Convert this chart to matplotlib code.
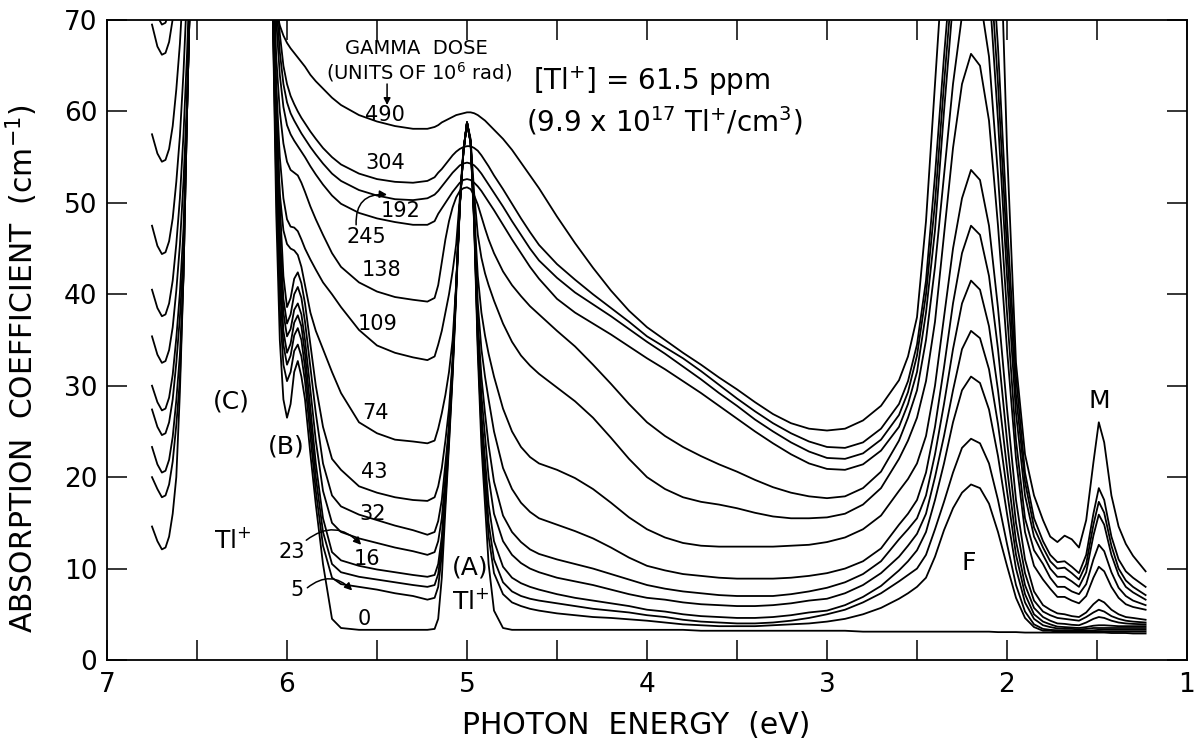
import numpy as np
import matplotlib
matplotlib.use("Agg")
import matplotlib.pyplot as plt
from matplotlib.ticker import MultipleLocator, FuncFormatter

nan = float("nan")
plt.rcParams['font.family'] = ['DejaVu Sans']
plt.rcParams['mathtext.default'] = 'regular'

# photon energy grid (eV), one shared grid for every spectrum
x_C = [6.75, 6.72, 6.695, 6.675, 6.655, 6.635, 6.615, 6.595, 6.575, 6.555, 6.54]
x_B = [6.08, 6.06, 6.04, 6.02, 6.00, 5.98, 5.96, 5.94, 5.92, 5.90, 5.87, 5.84,
       5.80, 5.75, 5.70, 5.60, 5.50, 5.40, 5.30, 5.22, 5.18]
x_A = [5.16, 5.14, 5.12, 5.10, 5.08, 5.06, 5.04, 5.02, 5.00, 4.98, 4.96, 4.94,
       4.92, 4.90, 4.88, 4.85, 4.80, 4.75, 4.70, 4.65, 4.60]
x_mid = [4.50, 4.40, 4.30, 4.20, 4.10, 4.00, 3.90, 3.80, 3.70, 3.60, 3.50, 3.40,
         3.30, 3.20, 3.10, 3.00, 2.90, 2.80, 2.70, 2.60, 2.55]
x_F = [2.50, 2.45, 2.40, 2.35, 2.30, 2.25, 2.20, 2.15, 2.10, 2.05, 2.00, 1.95,
       1.90, 1.85, 1.80]
x_M = [1.76, 1.72, 1.68, 1.64, 1.60, 1.56, 1.52, 1.49, 1.46, 1.42, 1.38, 1.34,
       1.30, 1.23]

# absorption coefficient (cm^-1) for each gamma dose, segments C | B | A | mid | F | M
d0 = ([14.6, 13.0, 12.1, 12.3, 13.5, 16.0, 20.0, 29.3, 42.1, 60.2, 72] +
      [72, 49, 35, 28.5, 26.5, 28, 31.5, 32.7, 31, 28.5, 22.5, 17, 10.5, 4.5, 3.5, 3.3, 3.3, 3.3, 3.3, 3.3, 3.4] +
      [4.5, 9, 16.5, 23.5, 31, 40, 49.5, 55.5, 58.8, 56.5, 47.5, 33.5, 23.5, 17, 10.5, 5.4, 3.5, 3.3, 3.3, 3.3, 3.3] +
      [3.3, 3.3, 3.3, 3.3, 3.3, 3.3, 3.3, 3.3, 3.2, 3.2, 3.2, 3.2, 3.2, 3.2, 3.2, 3.2, 3.2, 3.1, 3.1, 3.1, 3.1] +
      [3.1, 3.1, 3.1, 3.1, 3.1, 3.1, 3.1, 3.1, 3.1, 3.05, 3.05, 3.05, 3.0, 3.0, 3.0] +
      [3.0, 3.0, 3.0, 3.0, 3.0, 3.0, 3.0, 3.0, 3.0, 2.95, 2.95, 2.95, 2.9, 2.9])
d5 = ([20.0, 18.7, 17.8, 18.0, 19.2, 21.7, 25.7, 30.7, 42.1, 60.2, 72] +
      [72, 52, 38.5, 32.3, 30.5, 31.5, 33.8, 34.5, 33.2, 30.5, 24.5, 18.5, 12.5, 9.0, 8.3, 8.0, 7.7, 7.3, 7.0, 6.6, 6.8] +
      [8.0, 11.5, 17.5, 24, 31.5, 40.5, 49.7, 55.6, 58.8, 56.6, 47.8, 34.5, 25, 19, 13.5, 9.5, 7.2, 6.3, 5.9, 5.6, 5.4] +
      [5.1, 4.9, 4.7, 4.6, 4.45, 4.3, 4.1, 3.9, 3.8, 3.7, 3.7, 3.7, 3.8, 3.9, 4.0, 4.2, 4.5, 5.0, 5.7, 6.7, 7.3] +
      [8.0, 9.0, 11.3, 14.2, 16.6, 18.3, 19.2, 18.8, 17.1, 14.0, 10.3, 6.8, 4.6, 3.6, 3.2] +
      [3.2, 3.1, 3.1, 3.1, 3.1, 3.1, 3.1, 3.15, 3.1, 3.1, 3.1, 3.1, 3.1, 3.1])
d_u = ([23.3, 21.4, 20.5, 20.7, 21.9, 24.4, 28.4, 33.4, 42.1, 60.2, 72] +
       [72, 54, 41, 34.5, 32.3, 33.3, 35.5, 36.3, 35.0, 32.0, 26, 20, 14, 10.5, 9.6, 9.1, 8.8, 8.5, 8.2, 8.0, 8.2] +
       [9.4, 12.5, 18.2, 24.5, 31.8, 40.7, 49.7, 55.6, 58.8, 56.6, 48, 35, 26, 20.5, 15, 11, 8.5, 7.5, 7.0, 6.7, 6.5] +
       [6.2, 5.9, 5.6, 5.4, 5.2, 4.9, 4.7, 4.4, 4.2, 4.1, 4.0, 4.0, 4.1, 4.3, 4.6, 5.0, 5.5, 6.3, 7.3, 8.6, 9.3] +
       [10.0, 11.5, 14.3, 17.3, 20.5, 23.2, 24.2, 23.7, 21.5, 17.5, 12.7, 8.2, 5.3, 3.9, 3.4] +
       [3.3, 3.25, 3.2, 3.2, 3.2, 3.2, 3.25, 3.3, 3.3, 3.3, 3.3, 3.3, 3.3, 3.3])
d16 = ([27.4, 25.5, 24.6, 24.8, 26.0, 28.5, 32.5, 37.5, 44.5, 60.2, 72] +
       [72, 56, 43, 36, 33.6, 34.6, 36.9, 37.7, 36.5, 33.5, 27.5, 21.5, 15.5, 11.8, 10.9, 10.3, 9.9, 9.6, 9.3, 9.1, 9.3] +
       [10.5, 13.5, 19, 25, 32, 40.8, 49.8, 55.6, 58.8, 56.6, 48.2, 35.5, 27, 22, 17, 13, 10.2, 9.0, 8.4, 8.0, 7.7] +
       [7.2, 6.8, 6.5, 6.2, 5.9, 5.5, 5.3, 5.0, 4.8, 4.7, 4.6, 4.6, 4.7, 4.9, 5.2, 5.4, 6.0, 6.9, 8.1, 9.8, 10.8] +
       [12.0, 14.0, 17.5, 21.5, 26.0, 29.5, 31.0, 30.3, 27.4, 22.3, 16.0, 10.0, 6.3, 4.5, 3.8] +
       [3.6, 3.45, 3.4, 3.4, 3.35, 3.4, 3.5, 3.5, 3.5, 3.5, 3.5, 3.5, 3.5, 3.5])
d23 = ([30.0, 28.2, 27.3, 27.5, 28.7, 31.2, 35.2, 40.2, 47.2, 60.2, 72] +
       [72, 58, 45, 38, 35.4, 36.2, 38.3, 39.0, 37.8, 35, 29.5, 24, 18.5, 15.0, 14.0, 13.3, 12.8, 12.3, 11.9, 11.5, 11.8] +
       [13, 15.5, 20, 25.5, 32.3, 40.9, 49.8, 55.6, 58.8, 56.7, 48.4, 36, 29, 24.5, 20, 16, 13, 11.5, 10.6, 10.0, 9.6] +
       [9.0, 8.6, 8.2, 7.7, 7.2, 6.8, 6.6, 6.3, 6.1, 6.0, 5.9, 5.9, 6.0, 6.2, 6.5, 6.7, 7.3, 8.2, 9.5, 11.3, 12.5] +
       [13.8, 16.0, 20.0, 24.5, 29.5, 34.0, 36.0, 35.2, 31.8, 25.8, 18.5, 11.5, 7.2, 5.0, 4.2] +
       [3.9, 3.65, 3.6, 3.55, 3.5, 3.6, 3.75, 3.8, 3.8, 3.75, 3.7, 3.7, 3.7, 3.7])
d32 = ([35.4, 33.4, 32.5, 32.7, 33.9, 36.4, 40.4, 45.4, 52.4, 61.4, 72] +
       [72, 60, 47, 39.5, 36.8, 37.8, 40.0, 40.8, 39.6, 37, 32, 27, 21.5, 18.0, 16.8, 15.9, 15.3, 14.7, 14.2, 13.7, 14.0] +
       [15.2, 17.5, 21.5, 25.5, 32.5, 41, 49.8, 55.6, 58.8, 56.7, 48.6, 37, 31, 27, 23.5, 19.5, 15.8, 14, 12.9, 12.1, 11.6] +
       [11.0, 10.5, 10.0, 9.4, 8.8, 8.2, 7.8, 7.5, 7.3, 7.1, 7.0, 7.0, 7.0, 7.2, 7.5, 7.9, 8.5, 9.4, 10.8, 13.2, 14.3] +
       [15.5, 18.0, 22.5, 28.0, 34.0, 39.0, 41.5, 40.5, 36.5, 29.5, 21.0, 13.0, 8.2, 5.7, 4.7] +
       [4.3, 4.0, 3.95, 3.85, 3.8, 4.1, 4.5, 4.7, 4.6, 4.3, 4.1, 4.0, 3.95, 3.9])
d43 = ([40.5, 38.5, 37.6, 37.8, 39.0, 41.5, 45.5, 50.5, 57.5, 66.5, 75] +
       [73, 62, 50, 42, 38.6, 39.6, 41.7, 42.4, 41.2, 39, 34.5, 30, 25.5, 22.0, 20.8, 19.0, 18.3, 17.8, 17.5, 17.4, 17.8] +
       [19, 21, 24, 27.5, 32.8, 41, 49.8, 55.6, 58.8, 56.7, 48.8, 39, 34, 31, 28.5, 25, 21, 18.7, 17.2, 16.2, 15.5] +
       [14.8, 14.1, 13.3, 12.3, 11.2, 10.3, 9.8, 9.4, 9.2, 9.0, 8.9, 8.9, 8.9, 9.0, 9.2, 9.5, 10.0, 10.8, 12.2, 14.8, 16.0] +
       [17.5, 20.5, 25.5, 32.0, 39.0, 44.5, 47.5, 46.5, 42.0, 34.0, 24.0, 15.0, 9.5, 6.5, 5.3] +
       [4.9, 4.6, 4.5, 4.4, 4.3, 4.7, 5.2, 5.5, 5.3, 4.8, 4.5, 4.3, 4.2, 4.1])
d74 = ([47.5, 45.3, 44.4, 44.6, 45.8, 48.3, 52.3, 57.3, 64.3, 73.3, 82] +
       [74, 60, 51, 47, 45.5, 45, 44.8, 44.3, 43, 41, 38, 36, 34, 31.5, 29.2, 26.0, 24.8, 24.1, 23.9, 23.7, 24.0] +
       [25.3, 27, 29, 31.5, 35, 41.2, 49.8, 55.6, 58.8, 56.8, 49, 42, 38, 35.5, 33.5, 31, 27.5, 25, 23.3, 22.2, 21.5] +
       [20.8, 19.9, 18.7, 17.2, 15.6, 14.3, 13.4, 12.8, 12.5, 12.4, 12.4, 12.4, 12.4, 12.5, 12.6, 12.9, 13.4, 14.3, 15.8, 18.5, 19.8] +
       [21.5, 24.5, 30.0, 37.5, 45.0, 50.5, 53.6, 52.5, 47.5, 38.5, 27.5, 17.5, 11.0, 7.5, 6.0] +
       [5.5, 5.1, 5.0, 4.8, 4.7, 5.2, 6.1, 6.6, 6.3, 5.5, 5.0, 4.7, 4.6, 4.4])
d109 = ([57.5, 55.4, 54.5, 54.7, 55.9, 58.4, 62.4, 67.4, 74.4, 83, 92] +
        [76, 63, 55, 50.5, 48.2, 47.4, 47.3, 46.9, 46.0, 45.0, 43.8, 42.7, 41.3, 40.0, 38.6, 36.1, 34.4, 33.6, 33.1, 32.8, 33.2] +
        [34.5, 36, 38, 40, 42.5, 45.5, 50.5, 55.8, 58.8, 57, 51, 46.5, 44, 42.3, 41, 39.3, 36.8, 34.8, 33.3, 32.2, 31.3] +
        [29.8, 28.3, 26.5, 24.3, 22.0, 20.0, 18.7, 17.8, 17.3, 17.0, 16.6, 16.1, 15.7, 15.5, 15.5, 15.6, 16.0, 17.0, 18.8, 22.0, 24.0] +
        [26.5, 30.5, 37.0, 46.5, 56.0, 63.0, 66.3, 65.0, 59.0, 47.5, 34.0, 22.0, 14.0, 10.3, 8.8] +
        [7.8, 6.9, 6.9, 6.5, 6.2, 7.0, 9.0, 10.2, 9.7, 8.0, 6.8, 6.1, 5.8, 5.5])
d138 = ([69.5, 67.1, 66.2, 66.4, 67.6, 70.1, 74, 80, 87, 95, 100] +
        [78, 66, 60, 56.5, 54.5, 53.6, 53.3, 53.0, 52.2, 51.2, 49.6, 48.2, 46.5, 44.5, 43.0, 41.3, 40.3, 39.7, 39.4, 39.2, 39.6] +
        [41.0, 43.5, 46.0, 48.0, 49.5, 50.6, 51.3, 51.6, 51.7, 51.5, 50.8, 49.8, 48.5, 47.2, 46.0, 44.5, 42.5, 41.0, 39.8, 38.7, 37.8] +
        [36.0, 34.3, 32.3, 30.2, 28.0, 26.0, 24.5, 23.3, 22.3, 21.4, 20.6, 19.7, 18.9, 18.3, 17.9, 17.7, 17.9, 18.8, 20.6, 24.0, 26.5] +
        [29.5, 35.0, 43.0, 53.0, 63.0, 70.5, 74.0, 72.5, 66.0, 53.0, 38.0, 24.0, 15.5, 12.0, 10.5] +
        [9.0, 8.0, 8.0, 7.5, 7.2, 8.3, 11.0, 12.6, 11.9, 9.6, 7.9, 7.0, 6.5, 6.0])
d192 = ([73.0, 70.4, 69.5, 69.7, 70.9, 73.4, 77, 83, 90, 98, 100] +
        [80, 70, 64, 60.5, 58.5, 57.5, 56.8, 56.2, 55.6, 55.0, 54.0, 53.1, 52.0, 50.8, 49.9, 48.9, 48.3, 47.9, 47.6, 47.6, 48.0] +
        [48.8, 49.4, 50.0, 50.6, 51.2, 51.7, 52.2, 52.5, 52.6, 52.5, 52.2, 51.8, 51.3, 50.7, 50.1, 49.2, 47.6, 46.0, 44.5, 43.0, 41.7] +
        [39.5, 38.0, 36.8, 35.6, 34.3, 33.0, 31.8, 30.5, 29.2, 27.8, 26.4, 25.0, 23.7, 22.5, 21.5, 20.9, 20.8, 21.4, 22.9, 25.5, 28.0] +
        [31.5, 38.0, 47.0, 60.0, 72.0, 80.0, 84.0, 82.0, 74.0, 59.0, 42.0, 27.0, 18.0, 13.5, 11.5] +
        [10.0, 9.1, 9.1, 8.6, 8.0, 9.6, 13.6, 15.9, 14.8, 11.5, 9.3, 8.0, 7.4, 6.6])
d245 = ([nan] * 11 +
        [82, 72, 66.5, 63, 61, 59.8, 59.0, 58.3, 57.6, 57.0, 56.1, 55.3, 54.3, 53.2, 52.4, 51.4, 50.8, 50.4, 50.3, 50.5, 50.9] +
        [51.3, 51.8, 52.3, 52.8, 53.3, 53.7, 54.1, 54.3, 54.4, 54.3, 54.1, 53.7, 53.2, 52.6, 52.0, 51.1, 49.6, 48.0, 46.5, 45.0, 43.7] +
        [41.8, 40.2, 38.9, 37.6, 36.2, 34.8, 33.5, 32.1, 30.7, 29.2, 27.8, 26.3, 25.0, 23.8, 22.8, 22.1, 22.0, 22.6, 24.1, 26.8, 29.3] +
        [33.3, 40.0, 50.0, 63.0, 75.0, 84.0, 88.0, 86.0, 78.0, 63.0, 45.0, 29.0, 19.5, 14.5, 12.3] +
        [10.8, 10.0, 10.1, 9.5, 8.8, 10.5, 14.8, 17.3, 16.1, 12.5, 10.0, 8.7, 8.0, 7.1])
d304 = ([nan] * 11 +
        [84, 74, 68.5, 65, 63, 61.7, 60.8, 60.0, 59.3, 58.7, 57.8, 57.0, 56.0, 55.0, 54.2, 53.2, 52.6, 52.3, 52.2, 52.4, 52.8] +
        [53.3, 53.7, 54.2, 54.7, 55.2, 55.6, 55.9, 56.1, 56.2, 56.2, 56.0, 55.7, 55.2, 54.6, 54.0, 53.0, 51.5, 49.9, 48.3, 46.8, 45.4] +
        [43.3, 41.6, 40.0, 38.5, 37.0, 35.4, 34.2, 33.0, 31.6, 30.1, 28.6, 27.2, 25.9, 24.8, 23.9, 23.3, 23.2, 23.8, 25.3, 28.0, 30.5] +
        [34.5, 41.5, 53.0, 66.0, 78.0, 88.0, 92.0, 90.0, 82.0, 67.0, 48.0, 31.0, 20.5, 15.5, 13.0] +
        [11.5, 10.7, 10.8, 10.2, 9.5, 11.5, 16.0, 18.8, 17.5, 13.5, 11.0, 9.7, 9.0, 8.0])
d490 = ([nan] * 11 +
        [74, 71.2, 69.4, 68.3, 67.5, 66.9, 66.4, 65.9, 65.4, 64.9, 64.0, 63.3, 62.5, 61.5, 60.7, 59.6, 58.9, 58.4, 58.1, 58.1, 58.3] +
        [58.5, 58.8, 59.0, 59.2, 59.4, 59.6, 59.7, 59.8, 59.9, 59.9, 59.8, 59.6, 59.3, 59.0, 58.6, 58.0, 57.0, 55.8, 54.4, 53.0, 51.6] +
        [48.5, 45.6, 42.9, 40.4, 38.2, 36.4, 35.0, 33.6, 32.3, 30.9, 29.6, 28.2, 26.9, 25.9, 25.3, 25.1, 25.3, 26.2, 27.8, 30.6, 33.2] +
        [37.5, 48.0, 63.0, 78.0, 90.0, 98.0, 102.0, 100.0, 95.0, 88.0, 56.0, 32.5, 22.5, 18.0, 15.3] +
        [13.5, 12.9, 13.6, 13.2, 12.3, 15.3, 21.6, 26.0, 23.8, 18.0, 14.6, 12.7, 11.4, 9.7])

spectra = [d0, d5, d_u, d16, d23, d32, d43, d74, d109, d138, d192, d245, d304, d490]

# dose labels (units of 10^6 rad) and where they sit
dose_labels = ['490', '304', '192', '245', '138', '109', '74', '43', '32', '16', '0', '23', '5']
dose_label_x = [5.455, 5.455, 5.367, 5.560, 5.477, 5.494, 5.511, 5.516, 5.527, 5.555, 5.571, 5.976, 5.942]
dose_label_y = [59.6, 54.4, 49.1, 46.3, 42.7, 36.7, 27.05, 20.6, 16.0, 11.1, 4.5, 11.8, 7.7]

energy = np.array(x_C + x_B + x_A + x_mid + x_F + x_M)

fig = plt.figure(figsize=(11.94, 7.40), dpi=100)
ax = fig.add_axes([107 / 1194, 80 / 740, 1080 / 1194, 640 / 740])

for s in spectra:
    ax.plot(energy, s, color='black', lw=1.3, solid_joinstyle='round')

ax.set_xlim(7, 1)
ax.set_ylim(0, 70)
ax.xaxis.set_major_locator(MultipleLocator(1))
ax.xaxis.set_minor_locator(MultipleLocator(0.5))
ax.yaxis.set_major_locator(MultipleLocator(10))
ax.xaxis.set_major_formatter(FuncFormatter(lambda v, p: f"{int(round(v))}"))
ax.tick_params(which='both', direction='in', length=14.5, width=1.1,
               top=True, right=True, labelsize=19)
ax.tick_params(axis='x', pad=9)
ax.tick_params(axis='y', pad=7)
for sp in ax.spines.values():
    sp.set_linewidth(1.3)

ax.set_xlabel('PHOTON  ENERGY  (eV)', fontsize=21.5)
ax.xaxis.set_label_coords(0.49, -0.08)
ax.set_ylabel('ABSORPTION  COEFFICIENT  (cm$^{-1}$)', fontsize=21.5)
ax.yaxis.set_label_coords(-0.062, 0.455)

fs = 15
for t, xx, yy in zip(dose_labels, dose_label_x, dose_label_y):
    ax.text(xx, yy, t, ha='center', va='center', fontsize=fs)

ax.text(5.284, 66.9, 'GAMMA  DOSE', ha='center', va='center', fontsize=14)
ax.text(5.267, 64.3, '(UNITS OF 10$^{6}$ rad)', ha='center', va='center', fontsize=14)
ax.annotate('', xy=(5.444, 60.7), xytext=(5.444, 63.0),
            arrowprops=dict(arrowstyle='-|>', color='black', lw=1.1,
                            mutation_scale=10, shrinkA=0, shrinkB=0))

arrow_kw = dict(arrowstyle='-|>', color='black', lw=1.1, mutation_scale=11,
                shrinkA=0, shrinkB=0)
ax.annotate('', xy=(5.444, 50.9), xytext=(5.616, 47.6),
            arrowprops=dict(connectionstyle='arc3,rad=-0.55', **arrow_kw))
ax.annotate('', xy=(5.588, 12.6), xytext=(5.893, 13.1),
            arrowprops=dict(connectionstyle='arc3,rad=-0.45', **arrow_kw))
ax.annotate('', xy=(5.638, 7.6), xytext=(5.887, 7.9),
            arrowprops=dict(connectionstyle='arc3,rad=-0.45', **arrow_kw))

ax.text(3.977, 63.3, '[Tl$^{+}$] = 61.5 ppm', ha='center', va='center', fontsize=20)
ax.text(3.905, 59.0, '(9.9 x 10$^{17}$ Tl$^{+}$/cm$^{3}$)', ha='center', va='center', fontsize=20)

ax.text(6.30, 13.1, 'Tl$^{+}$', ha='center', va='center', fontsize=18)
ax.text(6.308, 28.3, '(C)', ha='center', va='center', fontsize=18)
ax.text(6.003, 23.3, '(B)', ha='center', va='center', fontsize=18)
ax.text(4.985, 10.1, '(A)', ha='center', va='center', fontsize=18)
ax.text(4.979, 6.35, 'Tl$^{+}$', ha='center', va='center', fontsize=18)
ax.text(2.21, 10.6, 'F', ha='center', va='center', fontsize=18)
ax.text(1.485, 28.3, 'M', ha='center', va='center', fontsize=18)

fig.savefig('out.png', dpi=100)
